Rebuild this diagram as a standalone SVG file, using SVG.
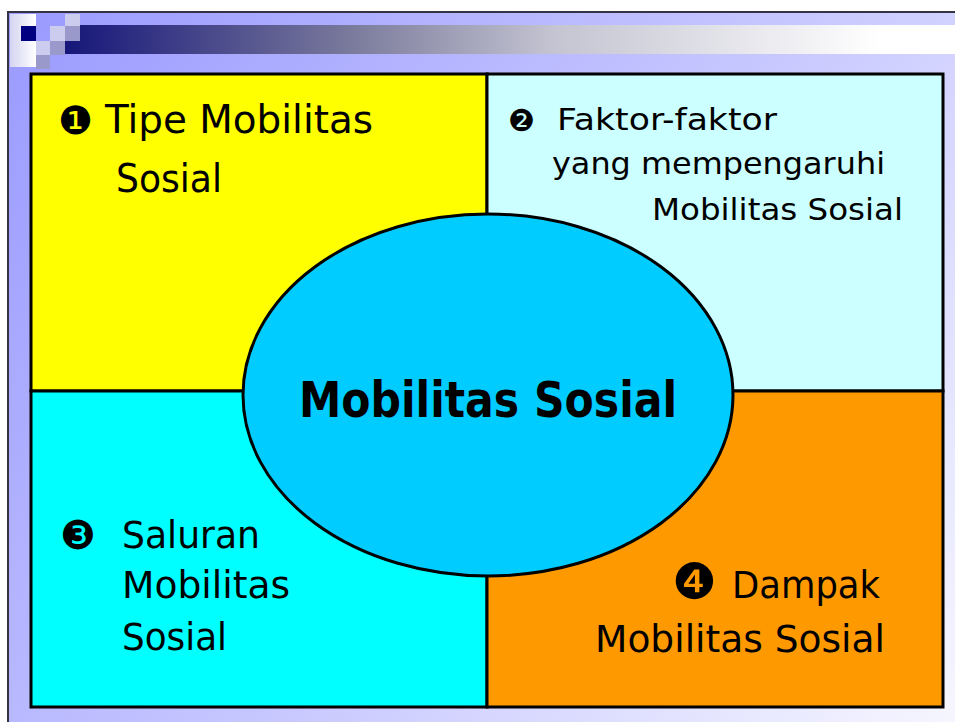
<svg xmlns="http://www.w3.org/2000/svg" width="955" height="722" viewBox="0 0 955 722">
<defs>
<linearGradient id="bg" x1="0" y1="0" x2="955" y2="722" gradientUnits="userSpaceOnUse">
<stop offset="0" stop-color="#9999ff"/>
<stop offset="0.55" stop-color="#c8c8ff"/>
<stop offset="1" stop-color="#f6f6ff"/>
</linearGradient>
<linearGradient id="bar" x1="65" y1="0" x2="880" y2="0" gradientUnits="userSpaceOnUse">
<stop offset="0" stop-color="#16167a"/>
<stop offset="0.35" stop-color="#7a7a9c"/>
<stop offset="0.6" stop-color="#c4c4d2"/>
<stop offset="1" stop-color="#ffffff"/>
</linearGradient>
<linearGradient id="strip" x1="10" y1="0" x2="36" y2="0" gradientUnits="userSpaceOnUse">
<stop offset="0" stop-color="#d4d4f0"/>
<stop offset="1" stop-color="#ffffff"/>
</linearGradient>
<style>
.q{stroke:#000;stroke-width:3}
.t{font-family:"DejaVu Sans",sans-serif;fill:#000}
.d{font-family:"DejaVu Sans",sans-serif;fill:#000}
</style>
</defs>
<rect x="0" y="0" width="955" height="722" fill="#ffffff"/>
<g id="slide-background">
<rect x="8" y="12" width="960" height="720" fill="url(#bg)" stroke="#333344" stroke-width="2"/>
<rect x="65" y="25" width="890" height="29" fill="url(#bar)"/>
<rect x="10" y="14" width="26" height="53" fill="url(#strip)"/>
<rect x="21" y="26" width="15" height="15" fill="#000080"/>
<rect x="65" y="14" width="15" height="12" fill="#ccccee"/>
<rect x="50" y="26" width="15" height="15" fill="#ccccee"/>
<rect x="65" y="26" width="15" height="15" fill="#9999cc"/>
<rect x="36" y="41" width="14" height="14" fill="#ccccee"/>
<rect x="50" y="41" width="15" height="14" fill="#9999cc"/>
<rect x="36" y="55" width="14" height="14" fill="#9999cc"/>
</g>
<g id="q1-tipe">
<rect class="q" x="31" y="74" width="456" height="317" fill="#ffff00"/>
<text class="d" x="58" y="134" font-size="39">❶</text>
<text class="t" x="105" y="133" font-size="39" textLength="268" lengthAdjust="spacingAndGlyphs">Tipe Mobilitas</text>
<text class="t" x="116" y="192" font-size="39" textLength="106" lengthAdjust="spacingAndGlyphs">Sosial</text>
</g>
<g id="q2-faktor">
<rect class="q" x="487" y="74" width="456" height="317" fill="#ccffff"/>
<text class="d" x="508" y="131" font-size="30">❷</text>
<text class="t" x="557" y="130" font-size="31" textLength="220" lengthAdjust="spacingAndGlyphs">Faktor-faktor</text>
<text class="t" x="552" y="174" font-size="31" textLength="333" lengthAdjust="spacingAndGlyphs">yang mempengaruhi</text>
<text class="t" x="652" y="220" font-size="31" textLength="251" lengthAdjust="spacingAndGlyphs">Mobilitas Sosial</text>
</g>
<g id="q3-saluran">
<rect class="q" x="31" y="391" width="456" height="316" fill="#00ffff"/>
<text class="d" x="60" y="549" font-size="40">❸</text>
<text class="t" x="122" y="548" font-size="37" textLength="138" lengthAdjust="spacingAndGlyphs">Saluran</text>
<text class="t" x="122" y="598" font-size="37" textLength="168" lengthAdjust="spacingAndGlyphs">Mobilitas</text>
<text class="t" x="122" y="650" font-size="37" textLength="105" lengthAdjust="spacingAndGlyphs">Sosial</text>
</g>
<g id="q4-dampak">
<rect class="q" x="487" y="391" width="456" height="316" fill="#ff9900"/>
<text class="d" x="672" y="599" font-size="50">❹</text>
<text class="t" x="732" y="598" font-size="37" textLength="148" lengthAdjust="spacingAndGlyphs">Dampak</text>
<text class="t" x="595" y="652" font-size="37" textLength="290" lengthAdjust="spacingAndGlyphs">Mobilitas Sosial</text>
</g>
<g id="center-mobilitas-sosial">
<ellipse cx="488" cy="395" rx="245" ry="181" fill="#00ccff" stroke="#000" stroke-width="3"/>
<text class="t" x="299" y="417" font-size="50" font-weight="bold" textLength="378" lengthAdjust="spacingAndGlyphs">Mobilitas Sosial</text>
</g>
<g id="connectors"/>
</svg>
